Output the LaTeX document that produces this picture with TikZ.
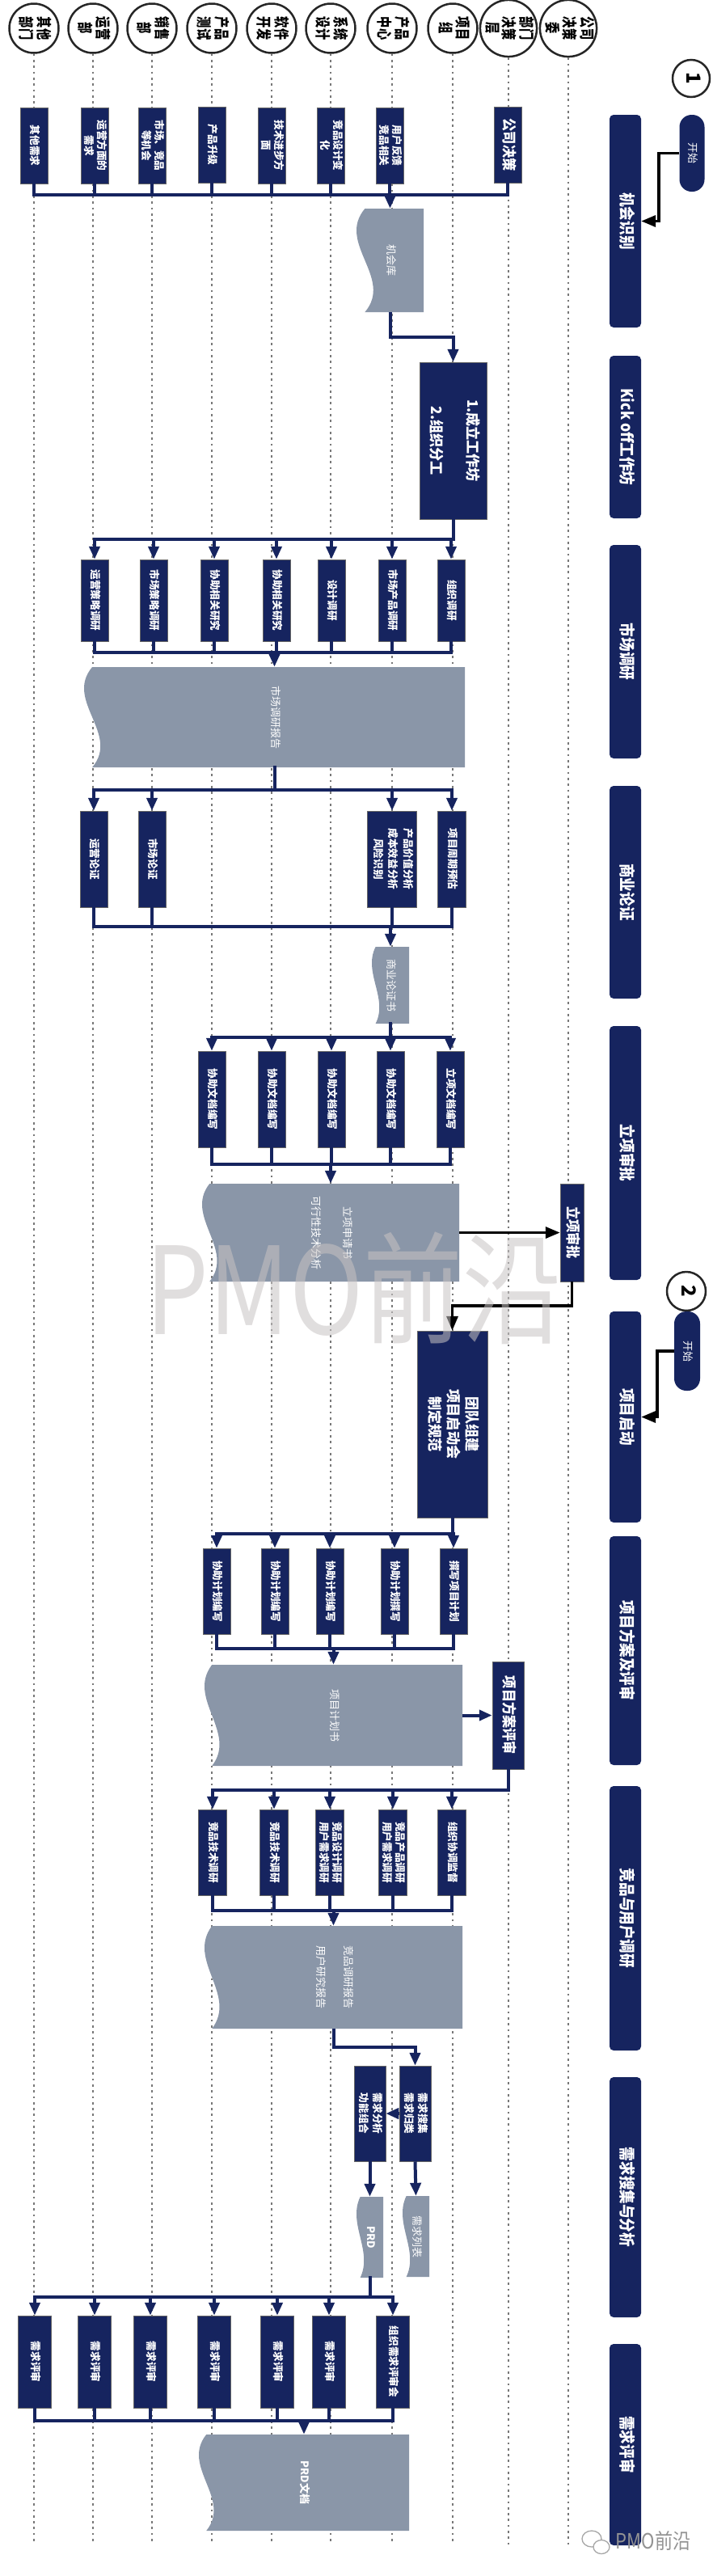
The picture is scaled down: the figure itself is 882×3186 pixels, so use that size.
\documentclass[tikz,border=0pt]{standalone}
\usepackage{fontspec}
\setmainfont{Noto Sans CJK SC}
\usepackage{graphicx}
\usetikzlibrary{arrows.meta,calc}

\definecolor{navy}{RGB}{22,36,95}
\definecolor{docgray}{RGB}{138,150,168}
\definecolor{guidegray}{RGB}{120,120,120}
\definecolor{wmgray}{RGB}{200,195,195}

% vertical (rotated) text
\newcommand{\vt}[2][0.97]{\rotatebox{-90}{\scalebox{#1}[1]{\begin{tabular}{@{}c@{}}#2\end{tabular}}}}
% document sheet with wavy left edge
\newcommand{\docwave}[1]{%
  \fill[docgray] (path picture bounding box.north east) -- (path picture bounding box.south east)
    -- ([xshift={0.289*#1pt}]path picture bounding box.south west)
    .. controls ([xshift={1.289*#1pt}]$(path picture bounding box.south west)!0.333!(path picture bounding box.north west)$)
    and ([xshift={-0.711*#1pt}]$(path picture bounding box.south west)!0.667!(path picture bounding box.north west)$)
    .. ([xshift={0.289*#1pt}]path picture bounding box.north west) -- cycle;}

\tikzset{
  lane/.style={circle, draw=black!85, line width=2.5pt, minimum size=61pt, inner sep=0pt,
    font=\fontsize{19}{17.5}\selectfont\bfseries},
  guide/.style={guidegray, line width=2.8pt, dash pattern=on 2.7pt off 4.6pt},
  phase/.style={fill=navy, rounded corners=5pt, minimum width=39pt, inner sep=0pt, text=white,
    font=\fontsize{20}{22}\selectfont\bfseries},
  startpill/.style={fill=navy, rounded corners=15pt, inner sep=0pt, text=white,
    font=\fontsize{13}{15}\selectfont},
  numcirc/.style={circle, draw=black!85, line width=2.5pt, inner sep=0pt, font=\fontsize{24}{24}\selectfont\bfseries},
  task/.style={fill=navy, draw=black!60, line width=0.5pt, inner sep=0pt, text=white,
    font=\fontsize{13}{16.5}\selectfont\bfseries},
  bigtask/.style={task, font=\fontsize{18}{23}\selectfont\bfseries},
  doc/.style={inner sep=0pt, text=white, font=\fontsize{13}{17}\selectfont, path picture={\docwave{#1}}},
  doc/.default=32,
  flow/.style={navy, line width=4pt, line cap=rect},
  flowarr/.style={navy, line width=4pt, -{Triangle[width=13pt,length=16pt]}},
  blackarr/.style={black, line width=3.5pt, -{Triangle[width=14pt,length=18pt]}},
  wmark/.style={inner sep=0pt, text=wmgray, text opacity=0.55, font=\fontsize{150}{155}\selectfont}
}

\begin{document}
\begin{tikzpicture}[x=1pt, y=-1pt]
    \fill[white] (0,0) rectangle (882,3186);
    \useasboundingbox (0,0) rectangle (882,3186);

    % Lanes
    \node[lane] (h1) at (42,35) {\vt[0.75]{其他\\部门}};
    \node[lane] (h2) at (115,35) {\vt[0.75]{运营\\部}};
    \node[lane] (h3) at (188,35) {\vt[0.75]{销售\\部}};
    \node[lane] (h4) at (262,35) {\vt[0.75]{产品\\测试}};
    \node[lane] (h5) at (336,35) {\vt[0.75]{软件\\开发}};
    \node[lane] (h6) at (409,35) {\vt[0.75]{系统\\设计}};
    \node[lane] (h7) at (485,35) {\vt[0.75]{产品\\中心}};
    \node[lane] (h8) at (560,35) {\vt[0.75]{项目\\组}};
    \node[lane] (h9) at (629,35) {\vt[0.75]{部门\\决策\\层}};
    \node[lane] (h10) at (703,35) {\vt[0.75]{公司\\决策\\委}};
    % Guide lines
    \draw[guide] (h1.south) -- ++(0,3080); \draw[guide] (h2.south) -- ++(0,3080);
    \draw[guide] (h3.south) -- ++(0,3080); \draw[guide] (h4.south) -- ++(0,3080);
    \draw[guide] (h5.south) -- ++(0,3080); \draw[guide] (h6.south) -- ++(0,3080);
    \draw[guide] (h7.south) -- ++(0,3080); \draw[guide] (h8.south) -- ++(0,3080);
    \draw[guide] (h9.south) -- ++(0,3080); \draw[guide] (h10.south) -- ++(0,3080);

    % Phases
    \node[phase, minimum height=263pt] (p1) at (773.5,273.5) {\vt[0.88]{机会识别}};
    \node[phase, minimum height=201pt] (p2) at (773.5,540.5) {\vt[0.88]{Kick off工作坊}};
    \node[phase, minimum height=264pt] (p3) at (773.5,806) {\vt[0.88]{市场调研}};
    \node[phase, minimum height=263pt] (p4) at (773.5,1103.5) {\vt[0.88]{商业论证}};
    \node[phase, minimum height=314pt] (p5) at (773.5,1426) {\vt[0.88]{立项审批}};
    \node[phase, minimum height=261pt] (p6) at (773.5,1752.5) {\vt[0.88]{项目启动}};
    \node[phase, minimum height=283pt] (p7) at (773.5,2041.5) {\vt[0.88]{项目方案及评审}};
    \node[phase, minimum height=327pt] (p8) at (773.5,2372.5) {\vt[0.88]{竞品与用户调研}};
    \node[phase, minimum height=297pt] (p9) at (773.5,2717.5) {\vt[0.88]{需求搜集与分析}};
    \node[phase, minimum height=249pt] (p10) at (773.5,3023.5) {\vt[0.88]{需求评审}};
    % Start markers
    \node[numcirc, minimum size=46pt] (n1) at (855,97) {\vt[1]{1}};
    \node[startpill, minimum width=31pt, minimum height=95pt] (s1) at (856,189.5) {\vt[1]{开始}};
    \node[numcirc, minimum size=48pt] (n2) at (849,1597) {\vt[1]{2}};
    \node[startpill, minimum width=32pt, minimum height=98pt] (s2) at (850,1671) {\vt[1]{开始}};
    \draw[blackarr] (s1.west) -| ($(p1.east)+(22pt,0)$) -- (p1.east);
    \draw[blackarr] (s2.west) -| ($(p6.east)+(20pt,0)$) -- (p6.east);

    % Stage 1: opportunities
    \node[task, minimum width=34pt, minimum height=94pt] (t1) at (42,180) {\vt{其他需求}};
    \node[task, minimum width=34pt, minimum height=94pt] (t2) at (117,180) {\vt{运营方面的\\需求}};
    \node[task, minimum width=34pt, minimum height=94pt] (t3) at (188,180) {\vt{市场、竞品\\等机会}};
    \node[task, minimum width=34pt, minimum height=94pt] (t4) at (262,179) {\vt{产品升级}};
    \node[task, minimum width=34pt, minimum height=94pt] (t5) at (336,180) {\vt{技术进步方\\面}};
    \node[task, minimum width=34pt, minimum height=94pt] (t6) at (409,180) {\vt{竞品设计变\\化}};
    \node[task, minimum width=34pt, minimum height=94pt] (t7) at (482,180) {\vt{用户反馈\\竞品相关}};
    \node[bigtask, minimum width=34pt, minimum height=94pt] (t9) at (628,179) {\vt[0.9]{公司决策}};
    \coordinate (bus1) at (0,241);
    \draw[flow] (t1.south) -- (t1.south |- bus1); \draw[flow] (t2.south) -- (t2.south |- bus1);
    \draw[flow] (t3.south) -- (t3.south |- bus1); \draw[flow] (t4.south) -- (t4.south |- bus1);
    \draw[flow] (t5.south) -- (t5.south |- bus1); \draw[flow] (t6.south) -- (t6.south |- bus1);
    \draw[flow] (t7.south) -- (t7.south |- bus1); \draw[flow] (t9.south) -- (t9.south |- bus1);
    \draw[flow] (t1.south |- bus1) -- (t9.south |- bus1);
    \node[doc=36, minimum width=83pt, minimum height=128pt] (d1) at (482.5,322) {\vt[1]{机会库}};
    \draw[flowarr] (d1.north |- bus1) -- (d1.north);

    % Stage 2: kick off
    \node[bigtask, minimum width=83pt, minimum height=194pt] (k1) at (560.5,545) {\vt[0.95]{1.成立工作坊\\[22pt]2.组织分工}};
    \draw[flowarr] (d1.south) |- ($(k1.north)+(0,31pt)$) -- (k1.north);

    % Stage 3: market research
    \coordinate (bus2) at (0,667);
    \node[task, minimum width=34pt, minimum height=101pt] (m1) at (117,742.5) {\vt{运营策略调研}};
    \node[task, minimum width=34pt, minimum height=101pt] (m2) at (190,742.5) {\vt{市场策略调研}};
    \node[task, minimum width=34pt, minimum height=101pt] (m3) at (265,742.5) {\vt{协助相关研究}};
    \node[task, minimum width=34pt, minimum height=101pt] (m4) at (342,742.5) {\vt{协助相关研究}};
    \node[task, minimum width=34pt, minimum height=101pt] (m5) at (410,742.5) {\vt{设计调研}};
    \node[task, minimum width=34pt, minimum height=101pt] (m6) at (485,742.5) {\vt{市场产品调研}};
    \node[task, minimum width=34pt, minimum height=101pt] (m7) at (558,742.5) {\vt{组织调研}};
    \draw[flow] (k1.south) -- (k1.south |- bus2);
    \draw[flow] (m1.north |- bus2) -- (k1.south |- bus2);
    \draw[flowarr] (m1.north |- bus2) -- (m1.north); \draw[flowarr] (m2.north |- bus2) -- (m2.north);
    \draw[flowarr] (m3.north |- bus2) -- (m3.north); \draw[flowarr] (m4.north |- bus2) -- (m4.north);
    \draw[flowarr] (m5.north |- bus2) -- (m5.north); \draw[flowarr] (m6.north |- bus2) -- (m6.north);
    \draw[flowarr] (m7.north |- bus2) -- (m7.north);
    \coordinate (bus3) at (0,807);
    \draw[flow] (m1.south) -- (m1.south |- bus3); \draw[flow] (m2.south) -- (m2.south |- bus3);
    \draw[flow] (m3.south) -- (m3.south |- bus3); \draw[flow] (m4.south) -- (m4.south |- bus3);
    \draw[flow] (m5.south) -- (m5.south |- bus3); \draw[flow] (m6.south) -- (m6.south |- bus3);
    \draw[flow] (m7.south) -- (m7.south |- bus3);
    \draw[flow] (m1.south |- bus3) -- (m7.south |- bus3);
    \node[doc=35, minimum width=471pt, minimum height=124pt] (d2) at (339.5,887) {\vt[1]{市场调研报告}};
    \draw[flowarr] (d2.north |- bus3) -- (d2.north);

    % Stage 4: business case
    \coordinate (bus4) at (0,977);
    \node[task, minimum width=34pt, minimum height=119pt] (b1) at (116,1062.5) {\vt{运营论证}};
    \node[task, minimum width=34pt, minimum height=119pt] (b2) at (188,1062.5) {\vt{市场论证}};
    \node[task, minimum width=61pt, minimum height=119pt] (b3) at (485,1062.5) {\vt{产品价值分析\\[2pt]成本效益分析\\[2pt]风险识别}};
    \node[task, minimum width=35pt, minimum height=119pt] (b4) at (559,1062.5) {\vt{项目周期预估}};
    \draw[flow] (d2.south) -- (d2.south |- bus4);
    \draw[flow] (b1.north |- bus4) -- (b4.north |- bus4);
    \draw[flowarr] (b1.north |- bus4) -- (b1.north); \draw[flowarr] (b2.north |- bus4) -- (b2.north);
    \draw[flowarr] (b3.north |- bus4) -- (b3.north); \draw[flowarr] (b4.north |- bus4) -- (b4.north);
    \coordinate (bus5) at (0,1146);
    \draw[flow] (b1.south) -- (b1.south |- bus5); \draw[flow] (b2.south) -- (b2.south |- bus5);
    \draw[flow] (b3.south) -- (b3.south |- bus5); \draw[flow] (b4.south) -- (b4.south |- bus5);
    \draw[flow] (b1.south |- bus5) -- (b4.south |- bus5);
    \node[doc=16, minimum width=46pt, minimum height=95pt] (d3) at (483,1218.5) {\vt[1]{商业论证书}};
    \draw[flowarr] (d3.north |- bus5) -- (d3.north);

    % Stage 5: approval
    \coordinate (bus6) at (0,1283);
    \node[task, minimum width=34pt, minimum height=119pt] (a1) at (262,1359.5) {\vt{协助文档编写}};
    \node[task, minimum width=34pt, minimum height=119pt] (a2) at (336,1359.5) {\vt{协助文档编写}};
    \node[task, minimum width=34pt, minimum height=119pt] (a3) at (410,1359.5) {\vt{协助文档编写}};
    \node[task, minimum width=34pt, minimum height=119pt] (a4) at (483,1359.5) {\vt{协助文档编写}};
    \node[task, minimum width=34pt, minimum height=119pt] (a5) at (557,1359.5) {\vt{立项文档编写}};
    \draw[flow] (d3.south) -- (d3.south |- bus6);
    \draw[flow] (a1.north |- bus6) -- (a5.north |- bus6);
    \draw[flowarr] (a1.north |- bus6) -- (a1.north); \draw[flowarr] (a2.north |- bus6) -- (a2.north);
    \draw[flowarr] (a3.north |- bus6) -- (a3.north); \draw[flowarr] (a4.north |- bus6) -- (a4.north);
    \draw[flowarr] (a5.north |- bus6) -- (a5.north);
    \coordinate (bus7) at (0,1440);
    \draw[flow] (a1.south) -- (a1.south |- bus7); \draw[flow] (a2.south) -- (a2.south |- bus7);
    \draw[flow] (a3.south) -- (a3.south |- bus7); \draw[flow] (a4.south) -- (a4.south |- bus7);
    \draw[flow] (a5.south) -- (a5.south |- bus7);
    \draw[flow] (a1.south |- bus7) -- (a5.south |- bus7);
    \node[doc, minimum width=318pt, minimum height=121pt] (d4) at (409,1524.5) {\vt[1]{立项申请书\\[22pt]可行性技术分析}};
    \draw[flowarr] (d4.north |- bus7) -- (d4.north);
    \node[bigtask, minimum width=29pt, minimum height=121pt] (ap1) at (707.5,1524.5) {\vt[0.9]{立项审批}};
    \draw[blackarr] (d4.east) -- (ap1.west);

    % Stage 6: project start
    \node[bigtask, minimum width=87pt, minimum height=231pt] (k2) at (559.5,1761.5) {\vt[0.95]{团队组建\\项目启动会\\制定规范}};
    \draw[blackarr] (ap1.south) |- ($(k2.north)+(0,31pt)$) -- (k2.north);

    % Stage 7: project plan
    \coordinate (bus8) at (0,1897);
    \node[task, minimum width=34pt, minimum height=106pt] (c1) at (268,1968) {\vt{协助计划编写}};
    \node[task, minimum width=34pt, minimum height=106pt] (c2) at (340,1968) {\vt{协助计划编写}};
    \node[task, minimum width=34pt, minimum height=106pt] (c3) at (408,1968) {\vt{协助计划编写}};
    \node[task, minimum width=34pt, minimum height=106pt] (c4) at (488,1968) {\vt{协助计划撰写}};
    \node[task, minimum width=34pt, minimum height=106pt] (c5) at (561,1968) {\vt{撰写项目计划}};
    \draw[flow] (k2.south) -- (k2.south |- bus8);
    \draw[flow] (c1.north |- bus8) -- (c5.north |- bus8);
    \draw[flowarr] (c1.north |- bus8) -- (c1.north); \draw[flowarr] (c2.north |- bus8) -- (c2.north);
    \draw[flowarr] (c3.north |- bus8) -- (c3.north); \draw[flowarr] (c4.north |- bus8) -- (c4.north);
    \draw[flowarr] (c5.north |- bus8) -- (c5.north);
    \coordinate (bus9) at (0,2039);
    \draw[flow] (c1.south) -- (c1.south |- bus9); \draw[flow] (c2.south) -- (c2.south |- bus9);
    \draw[flow] (c3.south) -- (c3.south |- bus9); \draw[flow] (c4.south) -- (c4.south |- bus9);
    \draw[flow] (c5.south) -- (c5.south |- bus9);
    \draw[flow] (c1.south |- bus9) -- (c5.south |- bus9);
    \node[doc, minimum width=319pt, minimum height=125pt] (d5) at (412.5,2121.5) {\vt[1]{项目计划书}};
    \draw[flowarr] (d5.north |- bus9) -- (d5.north);
    \node[bigtask, minimum width=39pt, minimum height=133pt] (ap2) at (628.5,2121.5) {\vt[0.9]{项目方案评审}};
    \draw[flowarr] (d5.east) -- (ap2.west);

    % Stage 8: competitor and user research
    \coordinate (bus10) at (0,2214);
    \node[task, minimum width=35pt, minimum height=106pt] (e1) at (263,2291) {\vt{竞品技术调研}};
    \node[task, minimum width=35pt, minimum height=106pt] (e2) at (339,2291) {\vt{竞品技术调研}};
    \node[task, minimum width=35pt, minimum height=106pt] (e3) at (408,2291) {\vt{竞品设计调研\\用户需求调研}};
    \node[task, minimum width=35pt, minimum height=106pt] (e4) at (486,2291) {\vt{竞品产品调研\\用户需求调研}};
    \node[task, minimum width=35pt, minimum height=106pt] (e5) at (559,2291) {\vt{组织协调监督}};
    \draw[flow] (ap2.south) -- (ap2.south |- bus10);
    \draw[flow] (e1.north |- bus10) -- (ap2.south |- bus10);
    \draw[flowarr] (e1.north |- bus10) -- (e1.north); \draw[flowarr] (e2.north |- bus10) -- (e2.north);
    \draw[flowarr] (e3.north |- bus10) -- (e3.north); \draw[flowarr] (e4.north |- bus10) -- (e4.north);
    \draw[flowarr] (e5.north |- bus10) -- (e5.north);
    \coordinate (bus11) at (0,2363);
    \draw[flow] (e1.south) -- (e1.south |- bus11); \draw[flow] (e2.south) -- (e2.south |- bus11);
    \draw[flow] (e3.south) -- (e3.south |- bus11); \draw[flow] (e4.south) -- (e4.south |- bus11);
    \draw[flow] (e5.south) -- (e5.south |- bus11);
    \draw[flow] (e1.south |- bus11) -- (e5.south |- bus11);
    \node[doc, minimum width=319pt, minimum height=127pt] (d6) at (412.5,2445.5) {\vt[1]{竞品调研报告\\[17pt]用户研究报告}};
    \draw[flowarr] (d6.north |- bus11) -- (d6.north);

    % Stage 9: requirements
    \node[task, minimum width=39pt, minimum height=118pt] (f1) at (457.5,2614) {\vt{需求分析\\功能组合}};
    \node[task, minimum width=39pt, minimum height=118pt] (f2) at (513.5,2614) {\vt{需求搜集\\需求归类}};
    \draw[flowarr] (d6.south) |- ($(f2.north)+(0,23pt)$) -- (f2.north);
    \draw[flowarr] (f2.west) -- (f1.east);
    \node[doc=16, minimum width=33pt, minimum height=100pt] (d7) at (457.5,2767) {\vt[1]{\textbf{PRD}}};
    \node[doc=16, minimum width=33pt, minimum height=100pt] (d8) at (514.5,2766) {\vt[1]{需求列表}};
    \draw[flowarr] (f1.south) -- (d7.north);
    \draw[flowarr] (f2.south) -- (d8.north);

    % Stage 10: requirement review
    \coordinate (bus12) at (0,2841);
    \node[task, minimum width=41pt, minimum height=114pt] (g1) at (43,2921) {\vt{需求评审}};
    \node[task, minimum width=41pt, minimum height=114pt] (g2) at (117,2921) {\vt{需求评审}};
    \node[task, minimum width=41pt, minimum height=114pt] (g3) at (186,2921) {\vt{需求评审}};
    \node[task, minimum width=41pt, minimum height=114pt] (g4) at (265,2921) {\vt{需求评审}};
    \node[task, minimum width=41pt, minimum height=114pt] (g5) at (343,2921) {\vt{需求评审}};
    \node[task, minimum width=41pt, minimum height=114pt] (g6) at (407,2921) {\vt{需求评审}};
    \node[task, minimum width=41pt, minimum height=114pt] (g7) at (486,2921) {\vt{组织需求评审会}};
    \draw[flow] (d7.south) -- (d7.south |- bus12);
    \draw[flow] (g1.north |- bus12) -- (g7.north |- bus12);
    \draw[flowarr] (g1.north |- bus12) -- (g1.north); \draw[flowarr] (g2.north |- bus12) -- (g2.north);
    \draw[flowarr] (g3.north |- bus12) -- (g3.north); \draw[flowarr] (g4.north |- bus12) -- (g4.north);
    \draw[flowarr] (g5.north |- bus12) -- (g5.north); \draw[flowarr] (g6.north |- bus12) -- (g6.north);
    \draw[flowarr] (g7.north |- bus12) -- (g7.north);
    \coordinate (bus13) at (0,2994);
    \draw[flow] (g1.south) -- (g1.south |- bus13); \draw[flow] (g2.south) -- (g2.south |- bus13);
    \draw[flow] (g3.south) -- (g3.south |- bus13); \draw[flow] (g4.south) -- (g4.south |- bus13);
    \draw[flow] (g5.south) -- (g5.south |- bus13); \draw[flow] (g6.south) -- (g6.south |- bus13);
    \draw[flow] (g7.south) -- (g7.south |- bus13);
    \draw[flow] (g1.south |- bus13) -- (g7.south |- bus13);
    \node[doc, minimum width=260pt, minimum height=119pt] (d9) at (376,3070.5) {\vt[1]{\textbf{PRD文档}}};
    \draw[flowarr] (d9.north |- bus13) -- (d9.north);

    % Watermarks
    \node[wmark] (wm1) at (438,1593) {\scalebox{0.82}[1]{PMO前沿}};
    \draw[gray!70, line width=1.3pt, fill=white] (732,3140) ellipse (12pt and 10pt);
    \draw[gray!70, line width=1.3pt, fill=white] (744,3150) ellipse (10pt and 8.5pt);
    \node[inner sep=0pt, text=gray!85, font=\fontsize{26}{28}\selectfont] (wm2) at (808,3143) {\scalebox{0.85}[1]{PMO前沿}};
\end{tikzpicture}
\end{document}
